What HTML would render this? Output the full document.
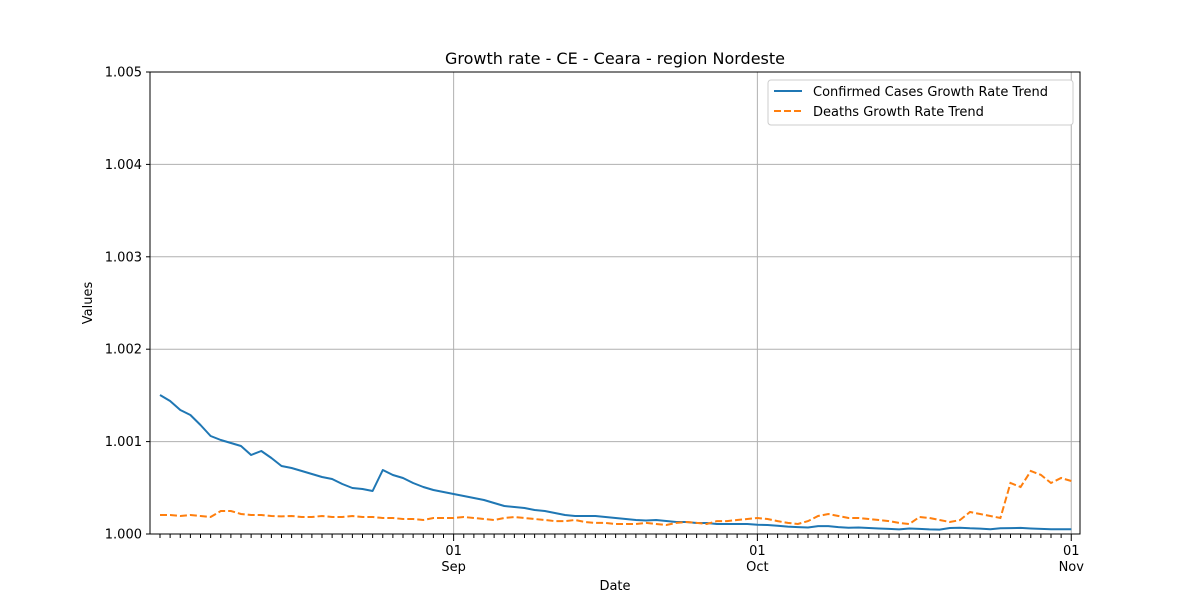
<!DOCTYPE html>
<html><head><meta charset="utf-8"><style>
body{margin:0;background:#fff;}
svg{display:block;font-family:"DejaVu Sans","Liberation Sans",sans-serif;}
</style></head><body>
<svg id="chart" width="1200" height="600"></svg>
<script>
const startDate = [2020, 7, 3]; // Aug 3
const yTicks = [1.000, 1.001, 1.002, 1.003, 1.004, 1.005];
const yTickLabels = ["1.000","1.001","1.002","1.003","1.004","1.005"];
const xMajorDays = [29, 59, 90];
const xMajorLabels = [["01","Sep"],["01","Oct"],["01","Nov"]];
const confirmed = [1.001504,1.001439,1.001342,1.001288,1.001180,1.001061,1.001017,1.000985,1.000952,1.000855,1.000898,1.000823,1.000736,1.000714,1.000682,1.000649,1.000617,1.000595,1.000541,1.000498,1.000487,1.000465,1.000693,1.000639,1.000606,1.000552,1.000509,1.000476,1.000455,1.000433,
1.000411,1.000390,1.000368,1.000335,1.000303,1.000292,1.000281,1.000260,1.000249,1.000227,1.000206,1.000195,1.000195,1.000195,1.000184,1.000173,1.000162,1.000152,1.000146,1.000152,1.000141,1.000130,1.000130,1.000119,1.000119,1.000108,1.000108,1.000108,1.000108,1.000100,
1.000097,1.000090,1.000080,1.000075,1.000070,1.000085,1.000085,1.000075,1.000068,1.000070,1.000065,1.000060,1.000055,1.000050,1.000060,1.000055,1.000050,1.000048,1.000065,1.000068,1.000062,1.000058,1.000052,1.000062,1.000064,1.000066,1.000060,1.000055,1.000052,1.000052,1.000052];
const deaths = [1.000206,1.000206,1.000195,1.000206,1.000195,1.000184,1.000249,1.000249,1.000216,1.000206,1.000206,1.000195,1.000190,1.000195,1.000184,1.000184,1.000195,1.000184,1.000184,1.000195,1.000184,1.000184,1.000173,1.000173,1.000162,1.000162,1.000152,1.000173,1.000173,1.000173,
1.000184,1.000173,1.000162,1.000152,1.000173,1.000184,1.000173,1.000162,1.000152,1.000140,1.000140,1.000152,1.000130,1.000120,1.000120,1.000108,1.000108,1.000108,1.000120,1.000108,1.000097,1.000120,1.000130,1.000120,1.000108,1.000140,1.000140,1.000152,1.000162,1.000173,
1.000162,1.000140,1.000120,1.000108,1.000140,1.000195,1.000216,1.000195,1.000173,1.000173,1.000162,1.000152,1.000140,1.000120,1.000108,1.000184,1.000173,1.000152,1.000130,1.000150,1.000238,1.000216,1.000195,1.000173,1.000552,1.000509,1.000682,1.000640,1.000552,1.000606,1.000574];

const svg = document.getElementById('chart');
const NS = 'http://www.w3.org/2000/svg';
const L=150,R=1080,T=72,B=534;
const x0=160, dayPx=10.125;
function xs(d){return x0+d*dayPx;}
function ys(v){return B-(v-1.000)/0.005*(B-T);}
function mk(tag,attrs,parent){const e=document.createElementNS(NS,tag);for(const k in attrs)e.setAttribute(k,attrs[k]);(parent||svg).appendChild(e);return e;}

// title
let t=mk('text',{x:615,y:64,'text-anchor':'middle','font-size':16});
t.textContent='Growth rate - CE - Ceara - region Nordeste';



// grid & y ticks
yTicks.forEach((v,i)=>{
  const y=ys(v);
  const g=mk('line',{x1:L,x2:R,y1:y,y2:y,stroke:'#b0b0b0','stroke-width':1});
  
  
  mk('line',{x1:L-4,x2:L,y1:y,y2:y,stroke:'#000'});
  const lb=mk('text',{x:L-8,y:y+4.5,'text-anchor':'end','font-size':13});
  lb.textContent=yTickLabels[i];
  
  
});
xMajorDays.forEach((d,i)=>{
  const x=xs(d);
  const g=mk('line',{x1:x,x2:x,y1:T,y2:B,stroke:'#b0b0b0','stroke-width':1});
  
  
  mk('line',{x1:x,x2:x,y1:B,y2:B+7,stroke:'#000'});
  const a=mk('text',{x:x,y:B+21,'text-anchor':'middle','font-size':13});
  a.textContent=xMajorLabels[i][0];
  
  
  const b=mk('text',{x:x,y:B+37,'text-anchor':'middle','font-size':13});
  b.textContent=xMajorLabels[i][1];
  
  
});
for(let d=0; xs(d)<=R; d++){
  if(xMajorDays.includes(d))continue;
  mk('line',{x1:xs(d),x2:xs(d),y1:B,y2:B+4,stroke:'#000'});
}
// series
function path(arr){return arr.map((v,i)=>(i?'L':'M')+xs(i).toFixed(1)+' '+ys(v).toFixed(1)).join(' ');}
const p1=mk('path',{d:path(confirmed),fill:'none',stroke:'#1f77b4','stroke-width':2,'stroke-linejoin':'round'});


const p2=mk('path',{d:path(deaths),fill:'none',stroke:'#ff7f0e','stroke-width':2,'stroke-dasharray':'7,3'});


// frame
const fr=mk('rect',{x:L,y:T,width:R-L,height:B-T,fill:'none',stroke:'#000','stroke-width':1});


// axis titles
const xt=mk('text',{x:615,y:590,'text-anchor':'middle','font-size':13});
xt.textContent='Date';


const yt=mk('text',{x:92,y:303,'text-anchor':'middle','font-size':13,transform:'rotate(-90 92 303)'});
yt.textContent='Values';


// legend
const lg=mk('g',{});


mk('rect',{x:768,y:80,width:305,height:45,rx:3,fill:'#fff',stroke:'#ccc'},lg);
mk('line',{x1:774,x2:802,y1:91,y2:91,stroke:'#1f77b4','stroke-width':2},lg);
mk('line',{x1:774,x2:802,y1:111,y2:111,stroke:'#ff7f0e','stroke-width':2,'stroke-dasharray':'7,3'},lg);
const l1=mk('text',{x:813,y:96,'font-size':13},lg);
l1.textContent='Confirmed Cases Growth Rate Trend';


const l2=mk('text',{x:813,y:116,'font-size':13},lg);
l2.textContent='Deaths Growth Rate Trend';


</script>
</body></html>
